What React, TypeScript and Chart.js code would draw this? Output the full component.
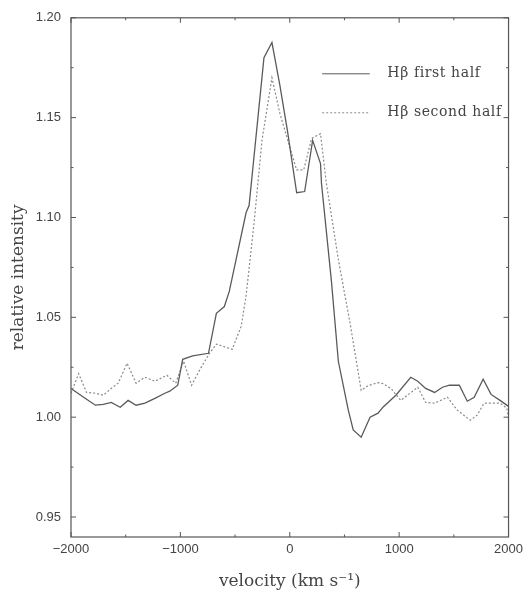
import React, { useEffect, useRef } from "react";
import { Chart, registerables } from "chart.js";

Chart.register(...registerables);

// velocity (km/s) and relative intensity, first half
const firstVel = [-2000, -1868, -1777, -1705, -1632, -1550, -1478, -1405, -1324, -1233, -1142, -1097, -1024, -979, -888, -743, -671, -598, -553, -399, -372, -236, -163, -90, -20, 63, 136, 209, 281, 290, 381, 444, 535, 580, 653, 734, 807, 852, 970, 1106, 1170, 1242, 1324, 1396, 1460, 1550, 1623, 1686, 1768, 1840, 1922, 2000];
const firstVal = [1.0144, 1.0094, 1.006, 1.0064, 1.0074, 1.005, 1.0084, 1.006, 1.007, 1.0094, 1.012, 1.013, 1.016, 1.029, 1.0307, 1.032, 1.052, 1.0554, 1.063, 1.1025, 1.106, 1.18, 1.1876, 1.166, 1.143, 1.1124, 1.113, 1.1386, 1.127, 1.117, 1.068, 1.028, 1.0035, 0.9936, 0.99, 1.0, 1.002, 1.005, 1.011, 1.02, 1.018, 1.0144, 1.0124, 1.015, 1.016, 1.016, 1.008, 1.01, 1.019, 1.0114, 1.0084, 1.0054];

// second half
const secondVel = [-2000, -1930, -1858, -1777, -1705, -1632, -1569, -1487, -1405, -1324, -1233, -1124, -1043, -970, -898, -820, -734, -671, -526, -444, -399, -326, -254, -163, -90, 9, 63, 127, 200, 281, 335, 444, 553, 653, 716, 807, 852, 925, 1015, 1170, 1242, 1324, 1441, 1532, 1650, 1713, 1777, 1922, 1985, 2000];
const secondVal = [1.012, 1.0218, 1.0124, 1.012, 1.011, 1.0144, 1.017, 1.027, 1.017, 1.02, 1.018, 1.021, 1.017, 1.028, 1.016, 1.024, 1.032, 1.0366, 1.034, 1.0455, 1.061, 1.0975, 1.1386, 1.17, 1.152, 1.1337, 1.1238, 1.1238, 1.1396, 1.142, 1.117, 1.079, 1.0465, 1.0134, 1.0158, 1.0173, 1.0168, 1.0144, 1.0084, 1.015, 1.0074, 1.007, 1.01, 1.0035, 0.9985, 1.001, 1.007, 1.007, 1.0045, 1.0];

const xMajorTicks = [-2000, -1000, 0, 1000, 2000];
const xMinorTicks = [-1500, -500, 500, 1500];
const yMajorTicks = [0.95, 1.0, 1.05, 1.1, 1.15, 1.2];
const yMinorTicks = [0.975, 1.025, 1.075, 1.125, 1.175];

const legendLabels = ["H\u03B2 first half", "H\u03B2 second half"];
const xTitle = "velocity (km s\u207B\u00B9)";
const yTitle = "relative intensity";

const SOLID = "#5a5a5a";
const DOTTED = "#8a8a8a";
const FRAME = "#555555";
const TEXT = "#444444";

const framePlugin = {
  id: "frameTicks",
  afterDatasetsDraw(chart: any) {
    const { ctx, chartArea, scales } = chart;
    const { left, right, top, bottom } = chartArea;
    const x = scales.x;
    const y = scales.y;
    ctx.save();
    ctx.strokeStyle = FRAME;
    ctx.lineWidth = 1.2;
    ctx.strokeRect(left, top, right - left, bottom - top);
    ctx.lineWidth = 1;
    const seg = (x1: number, y1: number, x2: number, y2: number) => {
      ctx.beginPath();
      ctx.moveTo(x1, y1);
      ctx.lineTo(x2, y2);
      ctx.stroke();
    };
    xMajorTicks.forEach((v) => {
      const p = x.getPixelForValue(v);
      seg(p, bottom, p, bottom - 5);
      seg(p, top, p, top + 5);
    });
    xMinorTicks.forEach((v) => {
      const p = x.getPixelForValue(v);
      seg(p, bottom, p, bottom - 2.5);
      seg(p, top, p, top + 2.5);
    });
    yMajorTicks.forEach((v) => {
      const p = y.getPixelForValue(v);
      seg(left, p, left + 5, p);
      seg(right, p, right - 5, p);
    });
    yMinorTicks.forEach((v) => {
      const p = y.getPixelForValue(v);
      seg(left, p, left + 2.5, p);
      seg(right, p, right - 2.5, p);
    });

    // legend
    const w = right - left;
    const lx0 = left + w * 0.574;
    const lx1 = left + w * 0.683;
    const tx = left + w * 0.723;
    const rows = [top + 56, top + 95];
    const styles = [
      { color: SOLID, dash: [] as number[] },
      { color: DOTTED, dash: [2, 2] },
    ];
    ctx.font = "14px 'DejaVu Serif'";
    try {
      (ctx as any).letterSpacing = "0.6px";
    } catch (e) {}
    ctx.textBaseline = "middle";
    ctx.textAlign = "left";
    rows.forEach((ry, i) => {
      ctx.strokeStyle = styles[i].color;
      ctx.setLineDash(styles[i].dash);
      ctx.lineWidth = 1;
      seg(lx0, ry, lx1, ry);
      ctx.setLineDash([]);
      ctx.fillStyle = TEXT;
      ctx.fillText(legendLabels[i], tx, ry);
    });
    try {
      (ctx as any).letterSpacing = "0px";
    } catch (e) {}
    ctx.restore();
  },
};

export default function App() {
  const ref = useRef<HTMLCanvasElement>(null);
  useEffect(() => {
    document.body.style.margin = "0";
    const canvas = ref.current;
    if (!canvas) return;
    const chart = new Chart(canvas, {
      type: "line",
      data: {
        datasets: [
          {
            label: legendLabels[0],
            data: firstVel.map((v, i) => ({ x: v, y: firstVal[i] })),
            borderColor: SOLID,
            borderWidth: 1.3,
            pointRadius: 0,
            tension: 0,
            fill: false,
          },
          {
            label: legendLabels[1],
            data: secondVel.map((v, i) => ({ x: v, y: secondVal[i] })),
            borderColor: DOTTED,
            borderWidth: 1.2,
            borderDash: [2, 2],
            pointRadius: 0,
            tension: 0,
            fill: false,
          },
        ],
      },
      options: {
        responsive: false,
        animation: false,
        layout: { padding: { top: 13, right: 16, left: 0, bottom: 0 } },
        plugins: {
          legend: { display: false },
          tooltip: { enabled: false },
        },
        scales: {
          x: {
            type: "linear",
            min: -2000,
            max: 2000,
            grid: { display: false, drawTicks: false },
            border: { display: false },
            afterBuildTicks: (s: any) => {
              s.ticks = xMajorTicks.map((v) => ({ value: v }));
            },
            afterFit: (s: any) => {
              s.height = 58;
            },
            ticks: {
              padding: 5,
              color: TEXT,
              font: { family: "'Liberation Sans'", size: 13 },
              maxRotation: 0,
              callback: (v: any) => (Number(v) < 0 ? "\u2212" + Math.abs(Number(v)) : String(v)),
            },
            title: {
              display: true,
              text: xTitle,
              color: TEXT,
              font: { family: "'DejaVu Serif'", size: 17 },
              padding: { top: 0, bottom: 3 },
            },
          },
          y: {
            type: "linear",
            min: 0.94,
            max: 1.2,
            grid: { display: false, drawTicks: false },
            border: { display: false },
            afterBuildTicks: (s: any) => {
              s.ticks = yMajorTicks.map((v) => ({ value: v }));
            },
            afterFit: (s: any) => {
              s.width = 71;
            },
            ticks: {
              padding: 10,
              color: TEXT,
              font: { family: "'Liberation Sans'", size: 13 },
              callback: (v: any) => Number(v).toFixed(2),
            },
            title: {
              display: true,
              text: yTitle,
              color: TEXT,
              font: { family: "'DejaVu Serif'", size: 17 },
              padding: { top: 8, bottom: 0 },
            },
          },
        },
      },
      plugins: [framePlugin],
    });
    return () => chart.destroy();
  }, []);
  return <canvas ref={ref} width={528} height={595} style={{ display: "block" }} />;
}
